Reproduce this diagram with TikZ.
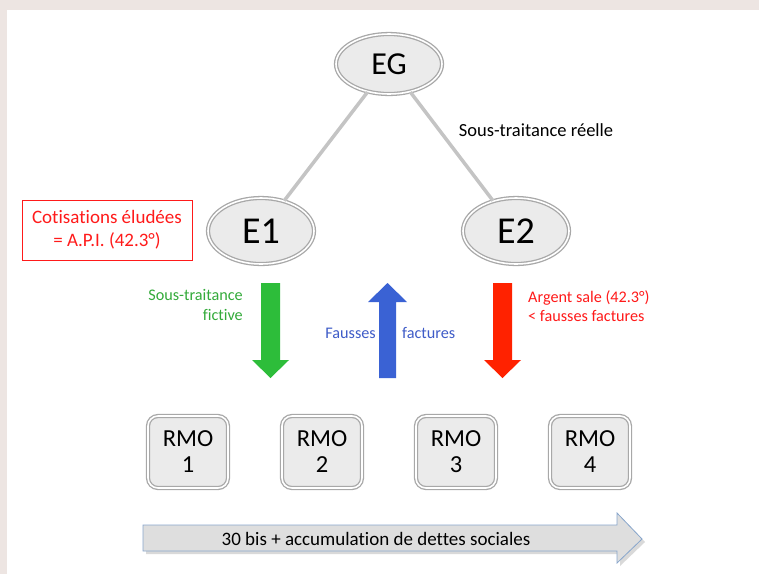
\documentclass[tikz,border=0pt]{standalone}
\usepackage{fontspec}
\setmainfont{Carlito}[Ligatures={NoCommon}]
\usetikzlibrary{shapes.geometric}
\definecolor{bgc}{HTML}{EDE5E2}
\definecolor{ovfill}{HTML}{EBEBEB}
\definecolor{ovline}{HTML}{A8A8A8}
\definecolor{linkc}{HTML}{C4C4C4}
\definecolor{greenc}{HTML}{2DBD3A}
\definecolor{greent}{HTML}{33AA3A}
\definecolor{bluec}{HTML}{3A62D4}
\definecolor{bluet}{HTML}{3F5CC8}
\definecolor{redc}{HTML}{FF2200}
\definecolor{redt}{HTML}{FF1A1A}
\definecolor{barfill}{HTML}{DEDEDE}
\definecolor{barline}{HTML}{88A6CC}
\begin{document}
\begin{tikzpicture}[x=1pt,y=-1pt,
  oval/.style={ellipse, draw=ovline, line width=1.3pt, double=white, double distance=1.6pt,
    fill=ovfill, inner sep=0pt, minimum width=106, minimum height=60},
  rmo/.style={rectangle, rounded corners=10pt, draw=ovline, line width=1.3pt, double=white,
    double distance=1.6pt, fill=ovfill, minimum width=80, minimum height=72, inner sep=0pt,
    align=center, font=\fontsize{24.5}{26}\selectfont},
  link/.style={draw=linkc, line width=3.5pt},
  lbl/.style={inner sep=0pt, font=\fontsize{16.2}{19.5}\selectfont}
]
\useasboundingbox (0,0) rectangle (759,574);
\fill[bgc] (0,0) rectangle (759,574);
\fill[white] (7,10) rectangle (759,574);

% tree nodes
\node[oval, font=\fontsize{32}{34}\selectfont] (EG) at (389,64) {EG};
\node[oval, font=\fontsize{38}{40}\selectfont, minimum height=66] (E1) at (261,231) {E1};
\node[oval, font=\fontsize{38}{40}\selectfont, minimum height=66] (E2) at (516,231) {E2};
\draw[link] (EG) -- (E1);
\draw[link] (EG) -- (E2);

\node[lbl, font=\fontsize{18.5}{21}\selectfont] (str) at (536,130) {Sous-traitance réelle};

\node[draw=redt, line width=0.8pt, text=redt, align=center, minimum width=170, minimum height=60,
  font=\fontsize{19}{23}\selectfont, inner sep=0pt] (cot) at (107,230) {Cotisations éludées\\= A.P.I. (42.3°)};

% block arrows
\fill[greenc] (261,283) -- (280,283) -- (280,360) -- (289,360) -- (270.5,378) -- (252,360) -- (261,360) -- cycle;
\fill[bluec] (379,378) -- (396,378) -- (396,302) -- (407,302) -- (387.5,283) -- (368,302) -- (379,302) -- cycle;
\fill[redc] (493,283) -- (512,283) -- (512,360) -- (521,360) -- (502.5,378) -- (484,360) -- (493,360) -- cycle;

\node[lbl, text=greent, align=right, anchor=east] (stf) at (243,305) {Sous-traitance\\fictive};
\node[lbl, text=bluet, anchor=east] (fa) at (376,333) {Fausses};
\node[lbl, text=bluet, anchor=west] (fb) at (402,333) {factures};
\node[lbl, text=redt, align=left, anchor=west] (arg) at (528,306) {Argent sale (42.3°)\\< fausses factures};

% RMO boxes
\node[rmo] (r1) at (188,452) {RMO\\1};
\node[rmo] (r2) at (322,452) {RMO\\2};
\node[rmo] (r3) at (456,452) {RMO\\3};
\node[rmo] (r4) at (590,452) {RMO\\4};

% bottom arrow
\fill[gray!30] (146,528) -- (620,528) -- (620,516) -- (645,542) -- (620,566) -- (620,554) -- (146,554) -- cycle;
\draw[barline, fill=barfill, line width=0.8pt] (143,525) -- (617,525) -- (617,513) -- (642,539) -- (617,563) -- (617,551) -- (143,551) -- cycle;
\node[lbl, font=\fontsize{19}{21}\selectfont] (bar) at (376,539) {30 bis + accumulation de dettes sociales};
\end{tikzpicture}
\end{document}
